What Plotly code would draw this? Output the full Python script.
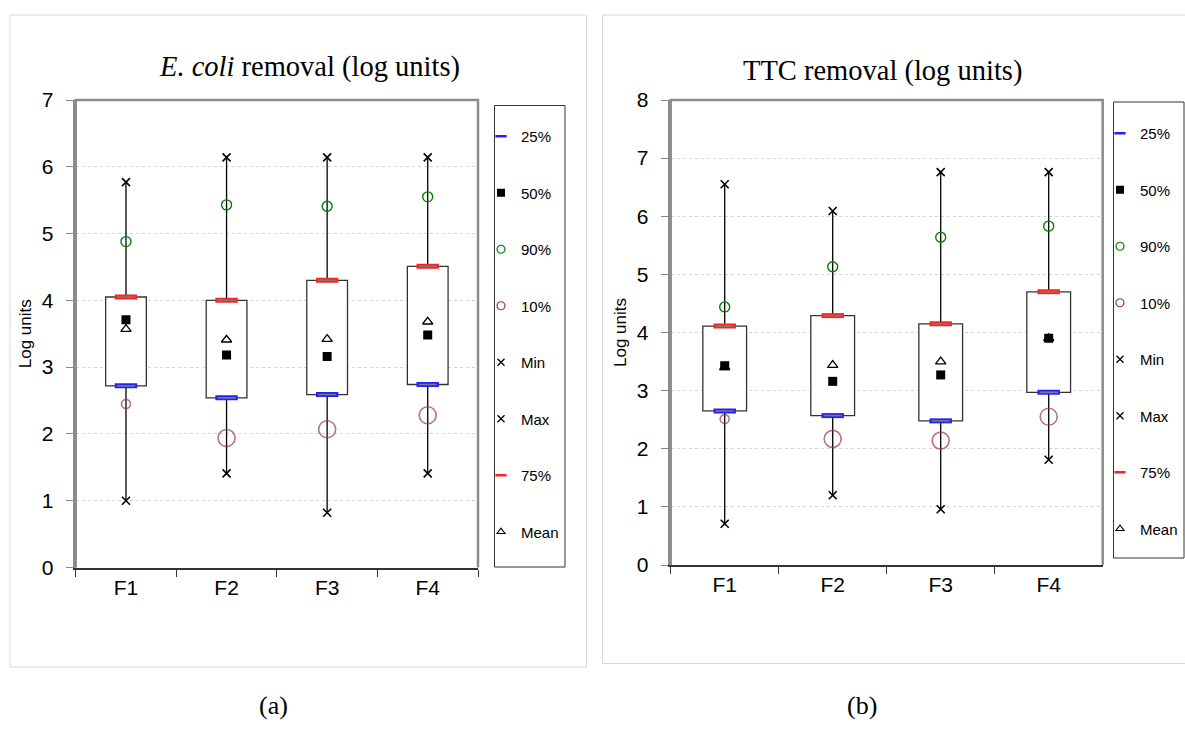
import plotly.graph_objects as go

# Filters
cats = ["F1", "F2", "F3", "F4"]

# E. coli removal statistics (log units)
ecoli_min = [1.00, 1.41, 0.82, 1.41]
ecoli_p10 = [2.45, 1.94, 2.07, 2.28]
ecoli_p25 = [2.72, 2.54, 2.59, 2.74]
ecoli_p50 = [3.71, 3.18, 3.16, 3.48]
ecoli_mean = [3.57, 3.41, 3.42, 3.68]
ecoli_p75 = [4.05, 4.00, 4.30, 4.51]
ecoli_p90 = [4.88, 5.43, 5.41, 5.55]
ecoli_max = [5.77, 6.14, 6.14, 6.14]

# TTC removal statistics (log units)
ttc_min = [0.71, 1.20, 0.96, 1.81]
ttc_p10 = [2.51, 2.17, 2.14, 2.55]
ttc_p25 = [2.65, 2.57, 2.48, 2.97]
ttc_p50 = [3.43, 3.16, 3.27, 3.90]
ttc_mean = [3.40, 3.44, 3.50, 3.90]
ttc_p75 = [4.11, 4.29, 4.15, 4.70]
ttc_p90 = [4.44, 5.13, 5.64, 5.83]
ttc_max = [6.55, 6.09, 6.76, 6.76]

# Legend entries in display order
legend_names = ["25%", "50%", "90%", "10%", "Min", "Max", "75%", "Mean"]

W, H = 1185, 747
SANS = "Liberation Sans, Arial, sans-serif"
SERIF = "Liberation Serif, Times New Roman, serif"
P10_SIZES = [9, 17, 17, 17]
GREEN, PURPLE, BLUE, RED = "#008000", "#993366", "#2020ff", "#ff2020"


def px(x):
    return x / W


def py(y):
    return 1 - y / H


# small symbols shown in the legend boxes
LEGEND_MARKERS = {
    "25%": dict(symbol="line-ew", size=8, color=BLUE, line=dict(color=BLUE, width=2.5)),
    "50%": dict(symbol="square", size=8, color="black", line=dict(width=0)),
    "90%": dict(symbol="circle-open", size=8, color=GREEN, line=dict(color=GREEN, width=1.2)),
    "10%": dict(symbol="circle-open", size=8, color=PURPLE, line=dict(color=PURPLE, width=1.2)),
    "Min": dict(symbol="x-thin", size=7, color="black", line=dict(color="black", width=1.3)),
    "Max": dict(symbol="x-thin", size=7, color="black", line=dict(color="black", width=1.3)),
    "75%": dict(symbol="line-ew", size=8, color=RED, line=dict(color=RED, width=2.5)),
    "Mean": dict(symbol="triangle-up-open", size=7, color="black", line=dict(color="black", width=1.1)),
}

fig = go.Figure()


def add_boxes(xa, ya, p25, p75):
    fig.add_trace(go.Bar(
        x=cats, y=[b - a for a, b in zip(p25, p75)], base=p25, width=0.405,
        marker=dict(color="white", line=dict(color="#333333", width=1.3)),
        xaxis=xa, yaxis=ya, showlegend=False, hoverinfo="skip"))


def add_panel(xa, ya, leg, mn, p10, p25, p50, mean, p75, p90, mx):
    # whiskers: min..25% and 75%..max
    wx, wy = [], []
    for c, a, b, d, e in zip(cats, mn, p25, p75, mx):
        wx += [c, c, None, c, c, None]
        wy += [a, b, None, d, e, None]
    fig.add_trace(go.Scatter(x=wx, y=wy, mode="lines",
                             line=dict(color="black", width=1.3),
                             xaxis=xa, yaxis=ya, showlegend=False, hoverinfo="skip"))

    def marker_trace(name, y, **m):
        fig.add_trace(go.Scatter(x=cats, y=y, mode="markers", name=name,
                                 marker=m, xaxis=xa, yaxis=ya, showlegend=False))

    marker_trace("25%", p25, symbol="line-ew", size=16,
                 line=dict(color=BLUE, width=5), color=BLUE)
    marker_trace("75%", p75, symbol="line-ew", size=16,
                 line=dict(color=RED, width=5), color=RED)
    for yv in (p25, p75):
        fig.add_trace(go.Scatter(x=cats, y=yv, mode="markers",
                                 marker=dict(symbol="line-ew", size=13,
                                             line=dict(color="#7a7a7a", width=1.6)),
                                 xaxis=xa, yaxis=ya, showlegend=False, hoverinfo="skip"))
    marker_trace("90%", p90, symbol="circle-open", size=10,
                 line=dict(color=GREEN, width=1.4), color=GREEN)
    marker_trace("10%", p10, symbol="circle-open", size=P10_SIZES,
                 line=dict(color=PURPLE, width=1.6), color=PURPLE)
    marker_trace("Min", mn, symbol="x-thin", size=8,
                 line=dict(color="black", width=1.6), color="black")
    marker_trace("Max", mx, symbol="x-thin", size=8,
                 line=dict(color="black", width=1.6), color="black")
    marker_trace("Mean", mean, symbol="triangle-up-open", size=9,
                 line=dict(color="black", width=1.3), color="black")
    marker_trace("50%", p50, symbol="square", size=9, color="black",
                 line=dict(width=0))

    # legend entries
    for rank, name in enumerate(legend_names):
        fig.add_trace(go.Scatter(x=[None], y=[None], mode="markers", name=name,
                                 marker=LEGEND_MARKERS[name], xaxis=xa, yaxis=ya,
                                 legend=leg, legendgroup=name + leg,
                                 legendrank=rank + 1, showlegend=True))


add_boxes("x", "y", ecoli_p25, ecoli_p75)
add_boxes("x2", "y2", ttc_p25, ttc_p75)
add_panel("x", "y", "legend", ecoli_min, ecoli_p10, ecoli_p25, ecoli_p50,
          ecoli_mean, ecoli_p75, ecoli_p90, ecoli_max)
add_panel("x2", "y2", "legend2", ttc_min, ttc_p10, ttc_p25, ttc_p50,
          ttc_mean, ttc_p75, ttc_p90, ttc_max)

xcommon = dict(type="category", tickson="boundaries", ticks="outside", ticklen=7,
               tickcolor="#333333", showline=True, linecolor="#333333", linewidth=2,
               showgrid=False, tickfont=dict(family=SANS, size=21, color="black"),
               fixedrange=True, automargin=False)
ycommon = dict(ticks="outside", ticklen=7, tickcolor="#888888", dtick=1,
               showline=True, linecolor="#8c8c8c", linewidth=3,
               showgrid=True, gridcolor="#d4d4d4", griddash="dot", gridwidth=1,
               zeroline=False, tickfont=dict(family=SANS, size=21, color="black"),
               title=dict(text="Log units", font=dict(family=SANS, size=17, color="black"),
                          standoff=6),
               ticklabelstandoff=8, fixedrange=True, automargin=False)

legcommon = dict(bgcolor="rgba(0,0,0,0)", borderwidth=0,
                 font=dict(family=SANS, size=15, color="black"),
                 itemsizing="trace", tracegroupgap=34, itemwidth=30,
                 xanchor="left", yanchor="top", traceorder="grouped")

fig.update_layout(
    width=W, height=H,
    margin=dict(l=0, r=0, t=0, b=0, pad=0, autoexpand=False),
    paper_bgcolor="white", plot_bgcolor="white", barmode="overlay",
    xaxis=dict(domain=[px(75.7), px(478)], anchor="y", **xcommon),
    yaxis=dict(domain=[py(567.5), py(100)], anchor="x", range=[0, 7], **ycommon),
    xaxis2=dict(domain=[px(670.7), px(1102.7)], anchor="y2", **xcommon),
    yaxis2=dict(domain=[py(565), py(100)], anchor="x2", range=[0, 8], **ycommon),
    legend=dict(x=px(481), y=py(120), **legcommon),
    legend2=dict(x=px(1100), y=py(117), **legcommon),
    showlegend=True,
)


def frame_path(x0, x1, y0, y1):
    # left, top and right edges of a plot area
    return (f"M {px(x0)},{py(y0)} L {px(x0)},{py(y1)} "
            f"L {px(x1)},{py(y1)} L {px(x1)},{py(y0)}")


shapes = [
    # outer panel frames
    dict(type="rect", xref="paper", yref="paper", x0=px(10), x1=px(586.5),
         y0=py(667), y1=py(15), line=dict(color="#d9d9d9", width=1)),
    dict(type="rect", xref="paper", yref="paper", x0=px(602.5), x1=px(1200),
         y0=py(663.5), y1=py(15), line=dict(color="#d9d9d9", width=1)),
    # plot area borders
    dict(type="path", xref="paper", yref="paper",
         path=frame_path(75.7, 478, 567.5, 100), line=dict(color="#8c8c8c", width=2.5)),
    dict(type="path", xref="paper", yref="paper",
         path=frame_path(670.7, 1102.7, 565, 100), line=dict(color="#8c8c8c", width=2.5)),
    # legend boxes
    dict(type="rect", xref="paper", yref="paper", x0=px(494.5), x1=px(565),
         y0=py(567), y1=py(105.5), line=dict(color="#333333", width=1)),
    dict(type="rect", xref="paper", yref="paper", x0=px(1113.5), x1=px(1184),
         y0=py(558), y1=py(102), line=dict(color="#333333", width=1)),
]
fig.update_layout(shapes=shapes)

annotations = [
    dict(text="<i>E. coli</i> removal (log units)", x=px(309), y=py(67),
         font=dict(family=SERIF, size=28.5, color="black")),
    dict(text="TTC removal (log units)", x=px(882), y=py(71),
         font=dict(family=SERIF, size=28.5, color="black")),
    dict(text="(a)", x=px(273), y=py(705), font=dict(family=SERIF, size=26, color="black")),
    dict(text="(b)", x=px(862), y=py(705), font=dict(family=SERIF, size=26, color="black")),
]
for a in annotations:
    a.update(xref="paper", yref="paper", showarrow=False, xanchor="center", yanchor="middle")
fig.update_layout(annotations=annotations)

fig.write_html("out.html")
